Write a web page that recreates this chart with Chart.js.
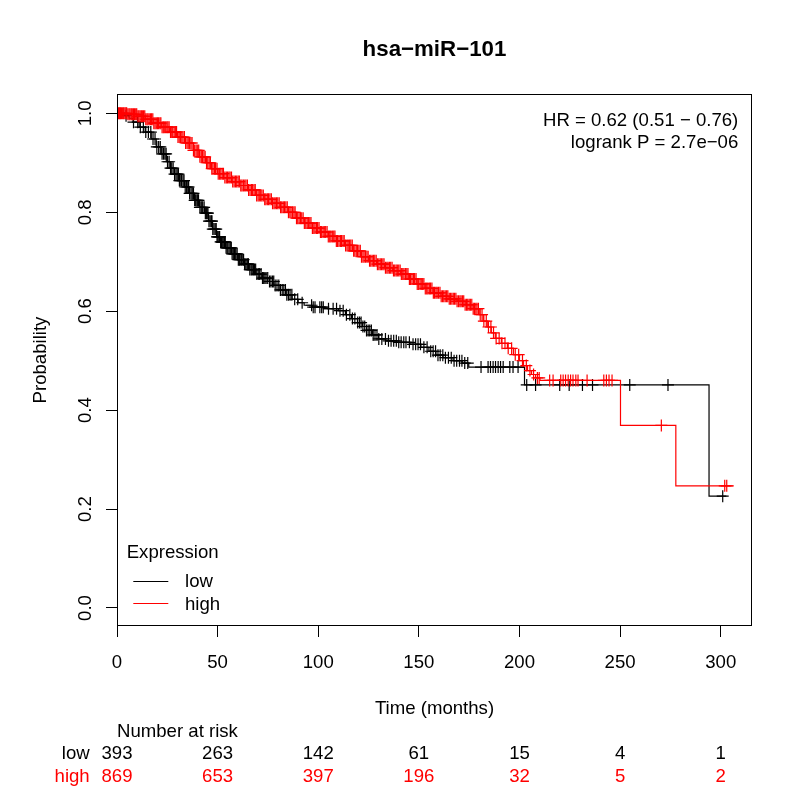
<!DOCTYPE html>
<html>
<head>
<meta charset="utf-8">
<script src="https://cdn.jsdelivr.net/npm/chart.js@4.4.1/dist/chart.umd.min.js"></script>
<style>
  html, body { margin: 0; padding: 0; background: #fff; }
  #wrap { width: 800px; height: 800px; }
</style>
</head>
<body>
<div id="wrap"><canvas id="km" width="800" height="800"></canvas></div>
<script>
// Kaplan-Meier steps (time in months, survival probability)
const lowTime = [0, 3, 6, 8, 11, 14, 17, 19.5, 22, 24.5, 26.5, 28.5, 31, 33.5, 36, 38.5, 41, 43.5, 45.5, 47.5,
  49.5, 51.5, 54, 57, 60, 63, 66, 69, 72, 75, 78, 81, 84, 87, 90, 93, 97, 103, 110, 113.5,
  116.5, 119.5, 122, 124, 127, 130, 133.5, 139, 146, 151, 155, 158.5, 162, 167, 171.5, 174.8, 202.5, 294.2, 302.8];
const lowSurv = [1.0, 0.995, 0.99, 0.982, 0.972, 0.962, 0.948, 0.932, 0.918, 0.902, 0.889, 0.877, 0.864, 0.851, 0.838, 0.824, 0.81, 0.798, 0.782, 0.766,
  0.75, 0.74, 0.728, 0.716, 0.704, 0.695, 0.684, 0.675, 0.667, 0.66, 0.652, 0.643, 0.633, 0.624, 0.617, 0.612, 0.608, 0.605, 0.601, 0.593,
  0.585, 0.577, 0.569, 0.561, 0.552, 0.544, 0.54, 0.537, 0.533, 0.527, 0.519, 0.511, 0.506, 0.5, 0.495, 0.487, 0.451, 0.226, 0.226];

const highTime = [0, 5, 10, 14, 18, 22, 26, 30, 34, 38, 41, 44, 47, 50, 53, 57, 61, 65, 69, 73,
  77, 81, 85, 89, 93, 97, 101, 105, 109, 113, 117, 121, 125, 129, 133, 137, 141, 145, 149, 153,
  157, 161, 165, 169, 173, 177, 180, 182, 184, 186, 188, 191, 194, 197, 200, 202, 204, 206, 208, 210.2,
  250.2, 277.7, 306.5];
const highSurv = [1.0, 0.998, 0.994, 0.988, 0.98, 0.972, 0.962, 0.952, 0.94, 0.925, 0.912, 0.9, 0.888, 0.878, 0.87, 0.862, 0.854, 0.845, 0.834, 0.826,
  0.818, 0.81, 0.8, 0.788, 0.778, 0.768, 0.76, 0.751, 0.742, 0.733, 0.722, 0.71, 0.702, 0.695, 0.688, 0.682, 0.675, 0.665, 0.655, 0.646,
  0.637, 0.63, 0.625, 0.62, 0.613, 0.605, 0.593, 0.58, 0.568, 0.556, 0.545, 0.535, 0.525, 0.512, 0.5, 0.49, 0.48, 0.472, 0.465, 0.46,
  0.369, 0.247, 0.247];

// censoring times ("+" marks)
const lowCensor = [4.5, 8.2, 10.3, 11.6, 13.1, 14.3, 15.6, 16.8, 17.9, 18.9, 19.8, 20.7, 21.5, 22.4, 23.1, 23.8, 24.4, 25.1, 25.9, 26.6,
  27.2, 27.9, 28.6, 29.3, 29.9, 30.5, 31.0, 31.4, 32.1, 32.8, 33.3, 33.9, 34.6, 35.2, 35.6, 36.1, 36.8, 37.4, 38.0, 38.6,
  39.1, 39.7, 40.1, 40.5, 41.2, 41.8, 42.2, 42.6, 43.3, 43.9, 44.4, 44.8, 45.2, 45.7, 46.3, 46.9, 47.2, 47.6, 48.2, 48.8,
  49.3, 49.7, 50.1, 50.6, 51.0, 51.5, 51.9, 52.3, 52.8, 53.4, 53.8, 54.2, 54.7, 55.1, 55.7, 56.3, 56.8, 57.2, 57.8, 58.4,
  58.7, 59.1, 59.7, 60.3, 60.8, 61.2, 61.8, 62.5, 62.9, 63.4, 64.0, 64.6, 65.0, 65.3, 66.0, 66.7, 67.2, 67.8, 68.3, 68.9,
  69.5, 70.2, 70.9, 71.6, 72.3, 72.9, 73.5, 74.1, 74.9, 75.8, 76.5, 77.3, 77.9, 78.6, 79.5, 80.4, 81.2, 82.1, 82.9, 83.7,
  84.4, 85.2, 86.0, 86.9, 88.3, 89.8, 92.0, 96.7, 97.5, 98.4, 100.8, 101.7, 102.5, 105.1, 107.4, 109.1, 110.8, 112.4, 114.0, 115.7,
  117.0, 118.2, 119.6, 120.5, 121.3, 122.2, 123.1, 124.0, 124.8, 125.6, 126.4, 127.3, 128.2, 129.2, 130.1, 131.6, 133.4, 134.9, 136.2, 137.5,
  138.8, 140.0, 141.2, 142.5, 143.6, 145.3, 147.1, 148.4, 149.6, 150.8, 152.5, 154.1, 155.9, 157.1, 158.3, 159.5, 160.6, 161.9, 163.2, 164.7,
  166.1, 167.5, 168.8, 170.2, 171.4, 172.8, 174.3, 180.9, 184.4, 185.6, 186.9, 188.1, 189.4, 190.6, 191.9, 195.2, 196.8, 199.3, 203.6, 208.0,
  220.0, 224.7, 231.3, 236.3, 254.8, 273.8, 301.0];
const highCensor = [0.3, 0.8, 1.3, 1.7, 2.2, 2.8, 3.3, 3.9, 4.4, 4.8, 5.4, 6.0, 6.5, 7.1, 7.6, 8.2, 8.7, 9.3, 9.8,
  10.4, 10.9, 11.5, 12.1, 12.6, 13.2, 13.8, 14.3, 14.9, 15.4, 16.0, 16.7, 17.2, 17.8, 18.3, 18.9, 19.5,
  20.1, 20.6, 21.3, 21.8, 22.4, 23.0, 23.5, 24.2, 24.8, 25.3, 25.9, 26.6, 27.2, 27.7, 28.4, 29.0, 29.6,
  30.3, 30.9, 31.5, 32.2, 32.8, 33.5, 34.1, 34.8, 35.4, 36.0, 36.7, 37.3, 38.0, 38.6, 39.3, 39.9,
  40.6, 41.2, 41.9, 42.5, 43.2, 43.8, 44.5, 45.1, 45.8, 46.4, 47.1, 47.7, 48.4, 49.0, 49.7,
  50.3, 51.0, 51.6, 52.3, 52.9, 53.6, 54.3, 54.9, 55.6, 56.2, 56.9, 57.5, 58.2, 58.9, 59.5,
  60.2, 60.8, 61.5, 62.1, 62.8, 63.5, 64.1, 64.8, 65.4, 66.1, 66.8, 67.4, 68.1, 68.7, 69.4,
  70.1, 70.7, 71.4, 72.0, 72.7, 73.4, 74.0, 74.7, 75.3, 76.0, 76.7, 77.3, 78.0, 78.6, 79.3, 79.9,
  80.6, 81.3, 81.9, 82.6, 83.2, 83.9, 84.6, 85.2, 85.9, 86.5, 87.2, 87.9, 88.5, 89.2, 89.8,
  90.5, 91.2, 91.8, 92.5, 93.1, 93.8, 94.5, 95.1, 95.8, 96.4, 97.1, 97.8, 98.4, 99.1, 99.7,
  100.4, 101.1, 101.7, 102.4, 103.0, 103.7, 104.4, 105.0, 105.7, 106.3, 107.0, 107.7, 108.3, 109.0, 109.6,
  110.3, 111.0, 111.6, 112.3, 112.9, 113.6, 114.3, 114.9, 115.6, 116.2, 116.9, 117.6, 118.2, 118.9, 119.5,
  120.2, 120.9, 121.5, 122.2, 122.8, 123.5, 124.2, 124.8, 125.5, 126.1, 126.8, 127.5, 128.1, 128.8, 129.4,
  130.1, 130.8, 131.4, 132.1, 132.7, 133.4, 134.1, 134.7, 135.4, 136.0, 136.7, 137.4, 138.0, 138.7, 139.3,
  140.0, 140.7, 141.3, 142.0, 142.6, 143.3, 144.0, 144.6, 145.3, 145.9, 146.6, 147.3, 147.9, 148.6, 149.2,
  149.9, 150.6, 151.2, 151.9, 152.5, 153.2, 153.9, 154.5, 155.2, 155.8, 156.5, 157.2, 157.8, 158.5, 159.1,
  159.8, 160.5, 161.1, 161.8, 162.4, 163.1, 163.8, 164.4, 165.1, 165.7, 166.4, 167.1, 167.7, 168.4, 169.0,
  169.7, 170.4, 171.0, 171.7, 172.3, 173.0, 173.7, 174.3, 175.0, 175.6, 176.3, 177.0, 177.6, 178.3, 178.9,
  179.6, 180.5, 181.4, 182.3, 183.5, 184.6, 185.8, 187.1, 188.4, 189.9, 191.3, 192.8, 194.4, 196.1, 197.9, 199.6,
  201.5, 203.4, 205.2, 207.0, 208.9, 209.8, 215.0, 216.7, 220.5, 221.7, 222.9, 224.2, 225.4, 226.6, 228.0, 229.1,
  233.6, 241.9, 243.2, 244.5, 246.0, 270.5, 302.0, 303.0];

// number at risk table
const riskTimes = [0, 50, 100, 150, 200, 250, 300];
const lowRisk = [393, 263, 142, 61, 15, 4, 1];
const highRisk = [869, 653, 397, 196, 32, 5, 2];

const titleText = 'hsa\u2212miR\u2212101';
const statsLines = ['HR = 0.62 (0.51 \u2212 0.76)', 'logrank P = 2.7e\u221206'];

const FONT = '"Liberation Sans", Arial, Helvetica, sans-serif';
const fs = 18.6;

const stepAt = (times, surv, t) => {
  let v = surv[0];
  for (let i = 0; i < times.length; i++) { if (times[i] <= t) v = surv[i]; }
  return v;
};
const toPts = (xs, ys) => xs.map((x, i) => ({ x, y: ys[i] }));
const censorPts = (cs, times, surv) => cs.map(t => ({ x: t, y: stepAt(times, surv, t) }));

const decor = {
  id: 'decor',
  afterDraw(chart) {
    const { ctx, chartArea: a, scales: { x, y } } = chart;
    ctx.save();
    ctx.strokeStyle = '#000';
    ctx.lineWidth = 1;
    ctx.strokeRect(Math.round(a.left) + 0.5, Math.round(a.top) + 0.5, Math.round(a.right - a.left) - 1, Math.round(a.bottom - a.top) - 1);

    ctx.fillStyle = '#000';
    ctx.font = `${fs}px ${FONT}`;
    ctx.textBaseline = 'alphabetic';
    // x tick labels
    ctx.textAlign = 'center';
    x.ticks.forEach(t => ctx.fillText(String(Math.round(t.value)), x.getPixelForValue(t.value), 668.3));
    // y tick labels, rotated as in R
    y.ticks.forEach(t => {
      ctx.save();
      ctx.translate(90.7, y.getPixelForValue(t.value));
      ctx.rotate(-Math.PI / 2);
      ctx.fillText(t.value.toFixed(1), 0, 0);
      ctx.restore();
    });
    // axis titles
    const cx = (a.left + a.right) / 2;
    ctx.fillText('Time (months)', cx, 714);
    ctx.save();
    ctx.translate(45.5, (a.top + a.bottom) / 2);
    ctx.rotate(-Math.PI / 2);
    ctx.fillText('Probability', 0, 0);
    ctx.restore();

    // title
    ctx.font = `bold 22.3px ${FONT}`;
    ctx.fillText(titleText, cx, 55.7);

    // HR / logrank
    ctx.font = `${fs}px ${FONT}`;
    ctx.textAlign = 'right';
    ctx.fillText(statsLines[0], 738.3, 126);
    ctx.fillText(statsLines[1], 738.3, 147.7);

    // legend
    ctx.textAlign = 'left';
    ctx.fillText('Expression', 126.7, 558.3);
    ctx.fillText('low', 185, 587.3);
    ctx.fillText('high', 185, 609.5);
    ctx.beginPath();
    ctx.moveTo(133.3, 581.5); ctx.lineTo(168.3, 581.5);
    ctx.stroke();
    ctx.strokeStyle = '#ff0000';
    ctx.beginPath();
    ctx.moveTo(133.3, 603.5); ctx.lineTo(168.3, 603.5);
    ctx.stroke();

    // number at risk
    ctx.fillText('Number at risk', 117, 736.7);
    ctx.textAlign = 'right';
    ctx.fillText('low', 89.7, 759.4);
    ctx.fillStyle = '#ff0000';
    ctx.fillText('high', 89.7, 781.7);
    ctx.textAlign = 'center';
    riskTimes.forEach((t, i) => {
      const px = x.getPixelForValue(t);
      ctx.fillStyle = '#000';
      ctx.fillText(String(lowRisk[i]), px, 759.4);
      ctx.fillStyle = '#ff0000';
      ctx.fillText(String(highRisk[i]), px, 781.7);
    });
    ctx.restore();
  }
};

new Chart(document.getElementById('km').getContext('2d'), {
  type: 'line',
  data: {
    datasets: [
      { label: 'high', data: toPts(highTime, highSurv), stepped: 'before', borderColor: '#ff0000', borderWidth: 1.2, pointRadius: 0, fill: false },
      { label: 'high censored', data: censorPts(highCensor, highTime, highSurv), showLine: false, pointStyle: 'cross', pointRadius: 6, borderColor: '#ff0000', borderWidth: 1.2 },
      { label: 'low', data: toPts(lowTime, lowSurv), stepped: 'before', borderColor: '#000000', borderWidth: 1.2, pointRadius: 0, fill: false },
      { label: 'low censored', data: censorPts(lowCensor, lowTime, lowSurv), showLine: false, pointStyle: 'cross', pointRadius: 6, borderColor: '#000000', borderWidth: 1.2 }
    ]
  },
  options: {
    responsive: false,
    animation: false,
    devicePixelRatio: 1,
    layout: { padding: { left: 0, right: 48, top: 94, bottom: 0 } },
    plugins: { legend: { display: false }, tooltip: { enabled: false }, title: { display: false } },
    scales: {
      x: {
        type: 'linear', min: 0, max: 315.55,
        afterFit: s => { s.height = 174; },
        ticks: { stepSize: 50, includeBounds: false, display: false },
        grid: { drawOnChartArea: false, drawTicks: true, tickLength: 11, color: '#000', lineWidth: 1 },
        border: { display: false }
      },
      y: {
        type: 'linear', min: -0.0364, max: 1.039,
        afterFit: s => { s.width = 117; },
        ticks: { stepSize: 0.2, includeBounds: false, display: false },
        grid: { drawOnChartArea: false, drawTicks: true, tickLength: 11, color: '#000', lineWidth: 1 },
        border: { display: false }
      }
    }
  },
  plugins: [decor]
});
</script>
</body>
</html>
